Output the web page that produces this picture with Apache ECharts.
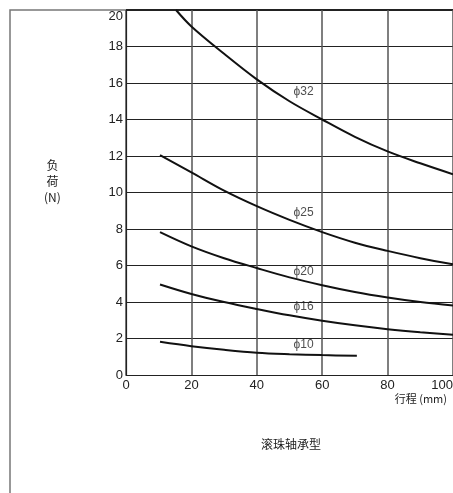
<!DOCTYPE html>
<html><head><meta charset="utf-8">
<script src="https://cdn.jsdelivr.net/npm/echarts@6/dist/echarts.min.js"></script>
<style>html,body{margin:0;padding:0;background:#fff;overflow:hidden}#c{width:453px;height:493px}</style>
</head><body><div id="c"></div>
<script>
var xTicks = [0, 20, 40, 60, 80, 100];
var yTicks = [0, 2, 4, 6, 8, 10, 12, 14, 16, 18, 20];
var seriesNames = ['ϕ32', 'ϕ25', 'ϕ20', 'ϕ16', 'ϕ10'];
var d32 = [[15.3, 20], [20, 19.1], [30, 17.6], [40, 16.2], [50, 15.0], [60, 14.0], [70, 13.05], [80, 12.25], [90, 11.6], [100, 11.0]];
var d25 = [[10.4, 12.05], [20, 11.1], [30, 10.1], [40, 9.25], [50, 8.5], [60, 7.83], [70, 7.25], [80, 6.8], [90, 6.4], [100, 6.07]];
var d20 = [[10.4, 7.83], [20, 7.05], [30, 6.4], [40, 5.86], [50, 5.35], [60, 4.92], [70, 4.55], [80, 4.25], [90, 4.0], [100, 3.81]];
var d16 = [[10.4, 4.96], [20, 4.44], [30, 4.0], [40, 3.62], [50, 3.27], [60, 2.97], [70, 2.72], [80, 2.51], [90, 2.34], [100, 2.2]];
var d10 = [[10.4, 1.82], [20, 1.58], [30, 1.38], [40, 1.22], [50, 1.14], [60, 1.09], [70.6, 1.05]];
var labelPos = [[54.3, 15.5], [54.3, 8.9], [54.3, 5.68], [54.3, 3.72], [54.3, 1.64]];
var title = '滚珠轴承型';
var yName = '负\n荷\n(N)';
var xName = '行程 (mm)';

var chart = echarts.init(document.getElementById('c'), null, {renderer: 'canvas', width: 453, height: 493});
var allData = [d32, d25, d20, d16, d10];
var series = allData.map(function (d, i) {
  return {type: 'line', name: seriesNames[i], data: d, smooth: 0.35, symbol: 'none',
    lineStyle: {color: '#111', width: 2}, silent: true};
});
series.push({
  type: 'scatter', symbolSize: 0, silent: true,
  data: labelPos.map(function (p, i) { return {value: p, name: seriesNames[i]}; }),
  label: {show: true, position: 'inside', formatter: '{b}', color: '#222', fontSize: 12, fontFamily: 'Liberation Sans, Arial, sans-serif'}
});
chart.setOption({
  animation: false,
  backgroundColor: '#fff',
  textStyle: {fontFamily: 'Liberation Sans, Arial, sans-serif'},
  grid: {left: 126, right: 0, top: 10, bottom: 118, containLabel: false, outerBoundsMode: 'none'},
  xAxis: {type: 'value', min: 0, max: 100, interval: 20,
    axisLine: {show: true, onZero: false, lineStyle: {color: '#222', width: 1.2}},
    axisTick: {show: false},
    axisLabel: {color: '#222', fontSize: 13, margin: 4, showMaxLabel: true, align: 'center', alignMaxLabel: 'right',
      formatter: function (v) { return xTicks.indexOf(v) >= 0 ? String(v) : ''; }},
    splitLine: {show: true, lineStyle: {color: '#555', width: 1.5}}
  },
  yAxis: {type: 'value', min: 0, max: 20, interval: 2,
    axisLine: {show: true, lineStyle: {color: '#222', width: 1.2}},
    axisTick: {show: false},
    axisLabel: {color: '#222', fontSize: 13, margin: 3, verticalAlignMaxLabel: 'top',
      formatter: function (v) { return yTicks.indexOf(v) >= 0 ? String(v) : ''; }},
    splitLine: {show: true, lineStyle: {color: '#222', width: 1}}
  },
  graphic: [
    {type: 'polyline', shape: {points: [[10, 493], [10, 10], [126, 10]]}, style: {stroke: '#777', lineWidth: 1.5, fill: null}, silent: true},
    {type: 'line', shape: {x1: 126, y1: 9.5, x2: 453, y2: 9.5}, style: {stroke: '#222', lineWidth: 1.2}, silent: true},
    {type: 'text', left: 44, top: 157, style: {text: yName, fill: '#222', font: '12px "Noto Sans CJK SC", sans-serif', textAlign: 'center', lineHeight: 16}},
    {type: 'text', right: 6, top: 393, style: {text: xName, fill: '#222', font: '11px "Noto Sans CJK SC", sans-serif'}},
    {type: 'text', left: 261, top: 438, style: {text: title, fill: '#222', font: '12px "Noto Sans CJK SC", sans-serif'}}
  ],
  series: series
});
</script></body></html>
